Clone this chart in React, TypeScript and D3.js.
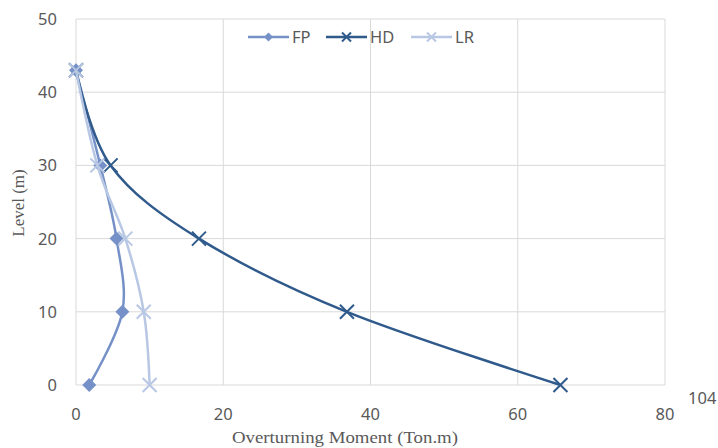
import React from "react";
import * as d3 from "d3";

const levels = [0, 10, 20, 30, 43];
const fpValues = [1.8, 6.3, 5.5, 3.3, 0.0];
const hdValues = [65.8, 36.8, 16.7, 4.7, 0.0];
const lrValues = [10.0, 9.2, 6.7, 2.9, 0.0];
const xTicks = [0, 20, 40, 60, 80];
const yTicks = [0, 10, 20, 30, 40, 50];
const seriesNames = ["FP", "HD", "LR"];
const seriesColors = ["#7591C8", "#2F5A8B", "#B8C8E4"];
const seriesMarkers = ["diamond", "x", "x"];

const W = 718;
const H = 448;

export default function App() {
  const x = d3.scaleLinear().domain([0, 80]).range([76, 665]);
  const y = d3.scaleLinear().domain([0, 50]).range([385, 19]);
  const allValues = [fpValues, hdValues, lrValues];

  const line = d3
    .line<[number, number]>()
    .x((d) => x(d[0]))
    .y((d) => y(d[1]))
    .curve(d3.curveCardinal.tension(0));

  const marker = (type: string, cx: number, cy: number, color: string, s: number, key: string) => {
    if (type === "diamond") {
      return (
        <path
          key={key}
          d={`M${cx},${cy - s}L${cx + s},${cy}L${cx},${cy + s}L${cx - s},${cy}Z`}
          fill={color}
        />
      );
    }
    return (
      <path
        key={key}
        d={`M${cx - s},${cy - s}L${cx + s},${cy + s}M${cx - s},${cy + s}L${cx + s},${cy - s}`}
        stroke={color}
        strokeWidth={2}
        fill="none"
      />
    );
  };

  const tickFont = "'Noto Sans', 'Open Sans', sans-serif";
  const legendX = [248, 326, 411];

  return (
    <svg width={W} height={H} style={{ position: "absolute", left: 0, top: 0 }}>
      <rect width={W} height={H} fill="#ffffff" />
      {yTicks.map((t) => (
        <line key={"gy" + t} x1={x(0)} x2={x(80)} y1={y(t)} y2={y(t)} stroke="#d9d9d9" strokeWidth={1} />
      ))}
      {xTicks.map((t) => (
        <line key={"gx" + t} x1={x(t)} x2={x(t)} y1={y(0)} y2={y(50)} stroke="#d9d9d9" strokeWidth={1} />
      ))}
      {yTicks.map((t) => (
        <text key={"ty" + t} x={57} y={y(t) + 6} textAnchor="end" fontFamily={tickFont} fontSize={16.5} fill="#595959">
          {t}
        </text>
      ))}
      {xTicks.map((t) => (
        <text key={"tx" + t} x={x(t)} y={420} textAnchor="middle" fontFamily={tickFont} fontSize={16.5} fill="#595959">
          {t}
        </text>
      ))}
      <text x={688} y={404} fontFamily={tickFont} fontSize={16.5} fill="#595959">
        104
      </text>
      {allValues.map((vals, i) => {
        const pts: [number, number][] = vals.map((v, j) => [v, levels[j]]);
        return (
          <g key={"s" + i}>
            <path d={line(pts) || ""} fill="none" stroke={seriesColors[i]} strokeWidth={2.5} />
            {pts.map((p, j) =>
              marker(seriesMarkers[i], x(p[0]), y(p[1]), seriesColors[i], 7, `m${i}-${j}`)
            )}
          </g>
        );
      })}
      {seriesNames.map((n, i) => (
        <g key={"l" + n}>
          <line x1={legendX[i]} x2={legendX[i] + 41} y1={37} y2={37} stroke={seriesColors[i]} strokeWidth={2.5} />
          {marker(seriesMarkers[i], legendX[i] + 20.5, 37, seriesColors[i], 4.5, "lm" + i)}
          <text x={legendX[i] + 44} y={43} fontFamily={tickFont} fontSize={16.5} fill="#595959">
            {n}
          </text>
        </g>
      ))}
      <text x={345} y={443} textAnchor="middle" fontFamily="'Liberation Serif', 'DejaVu Serif', serif" fontSize={17.5} fill="#595959" textLength={226} lengthAdjust="spacingAndGlyphs">
        Overturning Moment (Ton.m)
      </text>
      <text
        transform={`translate(24,203) rotate(-90)`}
        textAnchor="middle"
        fontFamily="'Liberation Serif', 'DejaVu Serif', serif"
        fontSize={17}
        fill="#595959"
      >
        Level (m)
      </text>
    </svg>
  );
}
